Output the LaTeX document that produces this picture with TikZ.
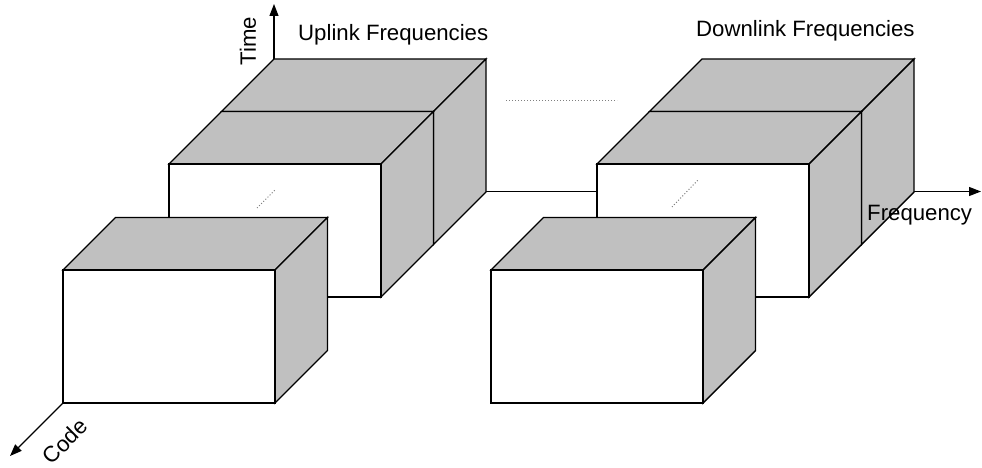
\documentclass[tikz,border=0pt]{standalone}
\usepackage{fontspec}
\setmainfont{Liberation Sans}
\usetikzlibrary{arrows.meta}
\definecolor{facegray}{HTML}{C0C0C0}
\tikzset{
  edge/.style={draw=black, line width=1.4pt, line join=miter},
  frontface/.style={edge, fill=white},
  sideface/.style={edge, fill=facegray},
  axis/.style={draw=black, line width=1.2pt, -{Triangle[length=12pt,width=9pt]}},
  dotline/.style={draw=gray, line width=1pt, dotted},
  lbl/.style={font=\fontsize{22.2}{26}\selectfont, inner sep=0pt}
}
% cuboid: front face top-left (#1,#2), width 212, height 133, depth (52.5,-52.5)
\newcommand\mycuboid[2]{%
  \path[sideface] (#1,#2) -- ++(52.5,-52.5) -- ++(212,0) -- ++(-52.5,52.5) -- cycle;
  \path[sideface] (#1+212,#2) -- ++(52.5,-52.5) -- ++(0,133) -- ++(-52.5,52.5) -- cycle;
  \path[frontface] (#1,#2) rectangle ++(212,133);
}
\begin{document}
\begin{tikzpicture}[x=1pt,y=-1pt]
\useasboundingbox (0,0) rectangle (982,468);
% axes origins
\coordinate (torig) at (274,59);
\coordinate (ttip) at (274,4);
\coordinate (forig) at (274,191.5);
\coordinate (ftip) at (981,191.5);
\coordinate (corig) at (63,403);
\coordinate (ctip) at (10,456);
\draw[axis] (forig) -- (ftip);
\draw[axis] (torig) -- (ttip);
% left group
\mycuboid{221.5}{111.5}
\mycuboid{169}{164}
\mycuboid{63}{270}
% right group
\mycuboid{649.5}{111.5}
\mycuboid{597}{164}
\mycuboid{491}{270}
\draw[axis] (corig) -- (ctip);
% dotted hints
\coordinate (d1a) at (506,101);
\coordinate (d1b) at (617,101);
\draw[dotline] (d1a) -- (d1b);
\coordinate (d2a) at (257,208);
\coordinate (d2b) at (275,190);
\draw[dotline] (d2a) -- (d2b);
\coordinate (d3a) at (672,207);
\coordinate (d3b) at (698,180);
\draw[dotline] (d3a) -- (d3b);
% labels
\node[lbl, anchor=west] (up) at (298,35) {Uplink Frequencies};
\node[lbl, anchor=west] (down) at (696,31) {Downlink Frequencies};
\node[lbl, anchor=west] (freq) at (867,215) {Frequency};
\node[lbl, rotate=90] (time) at (248,41) {Time};
\node[lbl, rotate=45] (code) at (65,441) {Code};
\end{tikzpicture}
\end{document}
